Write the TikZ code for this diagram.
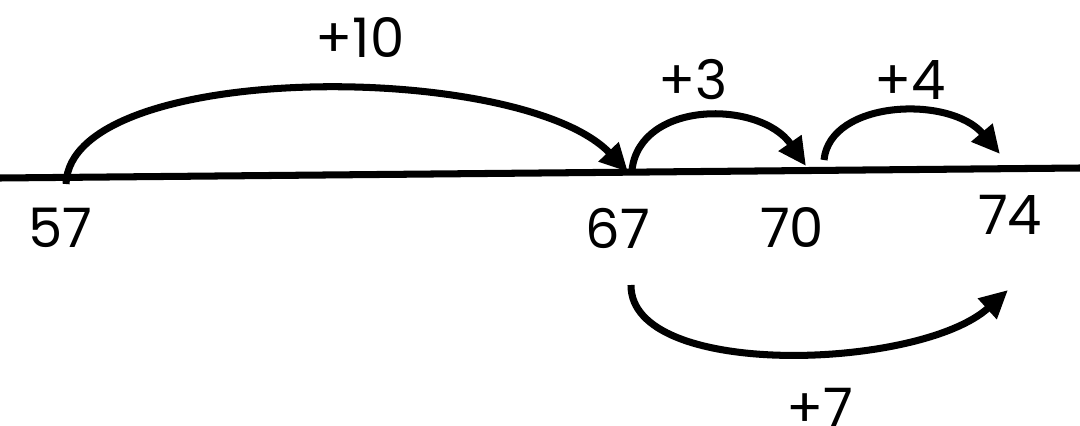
\documentclass[tikz,border=0pt]{standalone}
\usepackage{fontspec}
\setmainfont{Poppins}
\usetikzlibrary{arrows.meta}
\begin{document}
\begin{tikzpicture}[x=0.02cm,y=-0.02cm,
  thick line/.style={line width=4pt},
  jump/.style={line width=4pt,-{Triangle[length=16pt,width=15pt]}},
  lbl/.style={font=\fontsize{31}{33}\selectfont,inner sep=0pt}]
\useasboundingbox (0,0) rectangle (1080,426);
\coordinate (L) at (0,178);
\coordinate (R) at (1080,168);
\draw[thick line] (L) -- (R);
\coordinate (p57) at (66,184);
\coordinate (p67) at (628,172);
\coordinate (p67b) at (632,170);
\coordinate (p70) at (806,166);
\coordinate (p70b) at (824,160);
\coordinate (p74) at (1000,154);
\coordinate (q67) at (631,285);
\coordinate (q74) at (1008,290);
\node[lbl] (n57) at (60,228) {57};
\node[lbl] (n67) at (618,228) {67};
\node[lbl] (n70) at (792,228) {70};
\node[lbl] (n74) at (1010,215) {74};
\node[lbl] (t10) at (360,38) {+10};
\node[lbl] (t3) at (693,80) {+3};
\node[lbl] (t4) at (910,80) {+4};
\node[lbl] (t7) at (820,408) {+7};
\draw[jump] (p57) .. controls (70,60) and (520,60) .. (p67);
\draw[jump] (p67b) .. controls (640,100) and (760,100) .. (p70);
\draw[jump] (p70b) .. controls (830,100) and (950,95) .. (p74);
\draw[jump] (q67) .. controls (630,380) and (920,370) .. (q74);
\end{tikzpicture}
\end{document}
